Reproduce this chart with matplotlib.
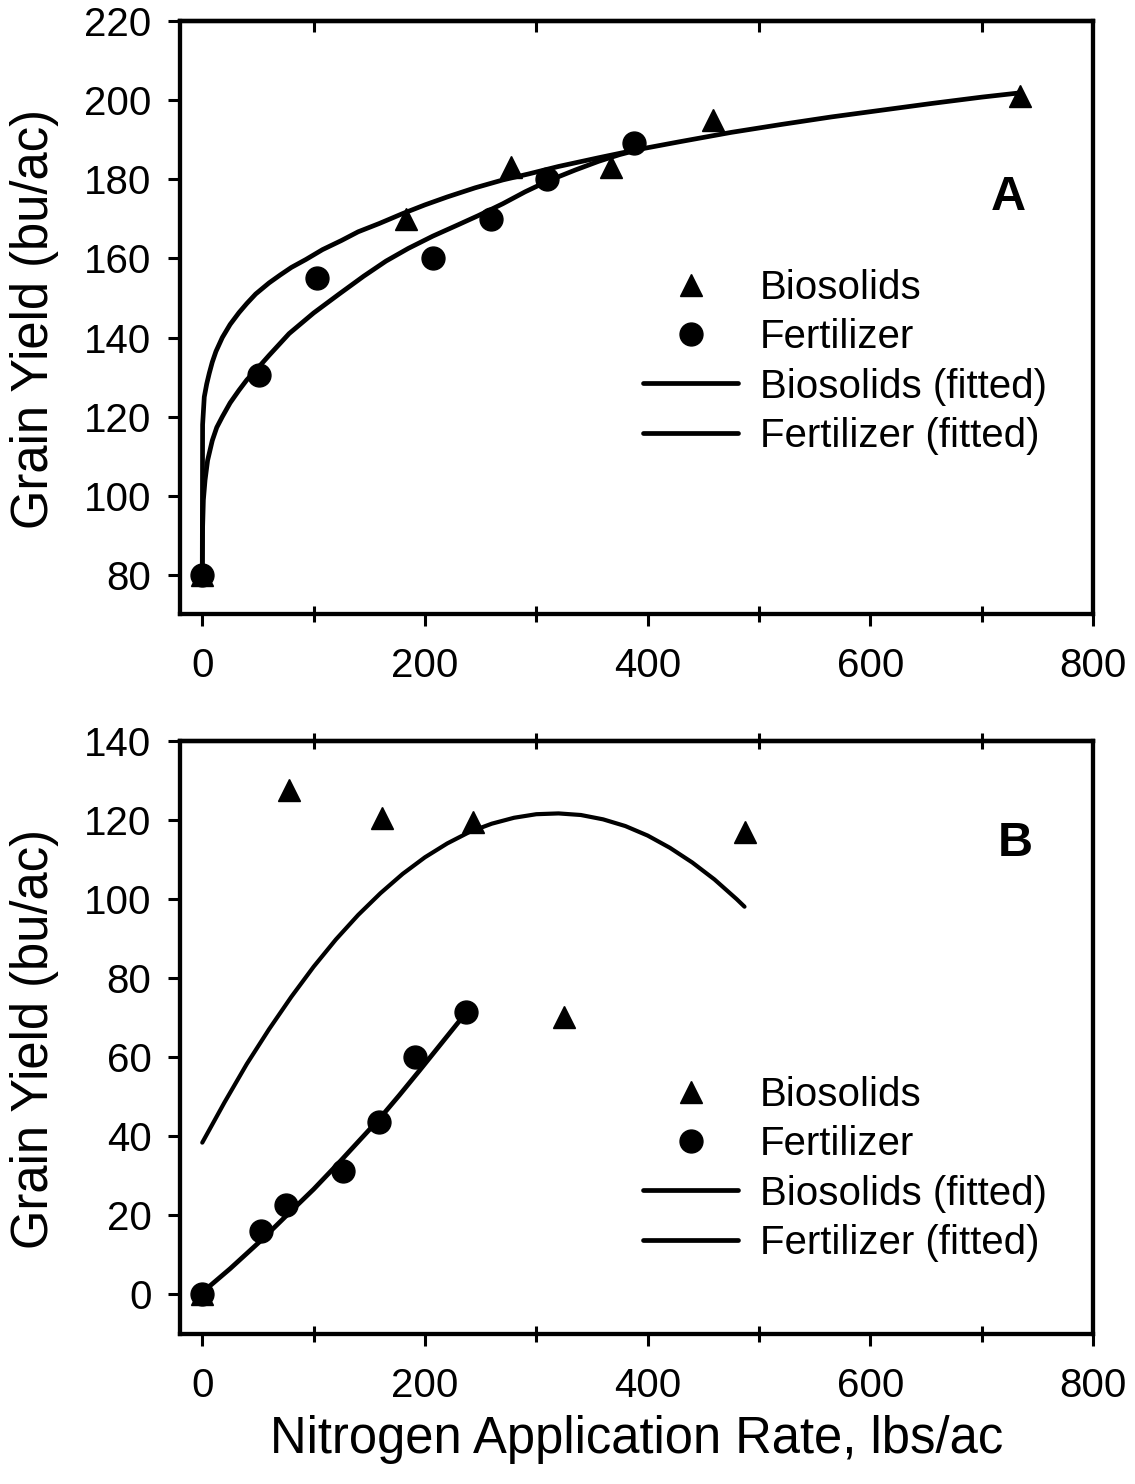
import matplotlib
matplotlib.use('Agg')
import matplotlib.pyplot as plt
from matplotlib.lines import Line2D

plt.rcParams['font.family'] = ['Liberation Sans', 'DejaVu Sans']

# ---------------- Panel A data ----------------
a_bio_x = [0, 183, 277, 367, 459, 734]
a_bio_y = [80, 170, 183, 183, 195, 201]
a_fert_x = [0, 51, 103, 207, 259, 310, 388]
a_fert_y = [80, 130.5, 155, 160, 170, 180, 189]
# fitted curves
a_bio_fit_x = [0, 0.3, 1.8, 4, 6.3, 9, 12.3, 18, 25, 33, 40, 48, 60, 70, 80, 93, 108, 125, 140, 159,
               180, 200, 220, 245, 270, 293, 320, 356, 390, 428, 475, 520, 565, 610, 655, 700, 735]
a_bio_fit_y = [80, 118, 125, 128.3, 131, 133.8, 136.5, 140, 143.3, 146.3, 148.6, 151, 153.8, 155.8,
               157.7, 159.7, 162.2, 164.5, 166.7, 168.8, 171.3, 173.5, 175.5, 177.8, 179.8, 181.3,
               183.2, 185.4, 187.4, 189.4, 191.8, 193.8, 195.7, 197.4, 199.1, 200.7, 201.8]
a_fert_fit_x = [0, 0.3, 1, 2.5, 4.8, 9, 13, 18, 25, 33, 40, 48, 60, 78, 100, 123, 145, 165, 185,
                207, 230, 248, 270, 290, 311, 335, 356, 375, 390]
a_fert_fit_y = [80, 92, 99, 104, 109, 114, 117.3, 120, 123.5, 126.7, 129.3, 131.7, 135.5, 141,
                146.2, 151, 155.5, 159.3, 162.5, 165.6, 168.5, 170.8, 173.8, 176.8, 179.6, 182.3,
                184.5, 186.2, 187.3]

# ---------------- Panel B data ----------------
b_bio_x = [0, 78, 161, 243, 325, 487]
b_bio_y = [0, 127.5, 120.5, 119.5, 70, 117]
b_fert_x = [0, 53, 75, 126, 159, 191, 237]
b_fert_y = [0, 16, 22.5, 31, 43.5, 60, 71.3]
b_bio_fit_x = [0, 20, 40, 60, 80, 100, 120, 140, 160, 180, 200, 220, 240, 260, 280, 300, 320,
               340, 360, 380, 400, 420, 440, 460, 480, 487]
b_bio_fit_y = [38.3, 48.5, 58.2, 67.0, 75.2, 82.8, 89.7, 95.9, 101.4, 106.3, 110.5, 114.0, 116.9,
               119.0, 120.5, 121.4, 121.6, 121.2, 120.1, 118.4, 116.0, 112.9, 109.2, 104.9, 99.9, 98]
b_fert_fit_x = [0, 25, 53, 78, 100, 123, 140, 159, 177, 195, 215, 237]
b_fert_fit_y = [0.4, 6.4, 13.6, 20.5, 26.5, 33.3, 38.5, 44.3, 50.3, 56.5, 63.5, 71.2]

legend_labels = ['Biosolids', 'Fertilizer', 'Biosolids (fitted)', 'Fertilizer (fitted)']
x_ticks = [0, 200, 400, 600, 800]
x_minor = [100, 300, 500, 700]

W, H = 1135, 1484
fig = plt.figure(figsize=(W / 100, H / 100), dpi=100)

FS = 29
LW = 3.4
SLW = 3.1
MS = 16.5


def px_axes(left, top, right, bottom):
    return [left / W, 1 - bottom / H, (right - left) / W, (bottom - top) / H]


def style(ax, ylim, yticks, top_dir):
    ax.set_xlim(-20, 800)
    ax.set_ylim(*ylim)
    ax.set_xticks(x_ticks)
    ax.set_xticks(x_minor, minor=True)
    ax.set_yticks(yticks)
    for s in ax.spines.values():
        s.set_linewidth(SLW)
    ax.tick_params(axis='x', which='major', direction='out', length=8.5, width=2.2,
                   labelsize=FS, pad=15, top=False)
    ax.tick_params(axis='x', which='minor', direction='inout', length=12, width=2.2,
                   top=False)
    ax.tick_params(axis='y', which='major', direction='out', length=8.5, width=2.2,
                   labelsize=FS, pad=12, right=False)
    sec = ax.secondary_xaxis('top')
    sec.set_xticks(x_minor)
    sec.tick_params(axis='x', direction=top_dir, length=8 if top_dir == 'in' else 12,
                    width=2.2, labeltop=False)
    sec.spines['top'].set_linewidth(SLW)


def legend(ax, anchor):
    handles = [
        Line2D([], [], ls='none', marker='^', ms=MS, color='black'),
        Line2D([], [], ls='none', marker='o', ms=MS, color='black'),
        Line2D([], [], color='black', lw=LW, solid_capstyle='round'),
        Line2D([], [], color='black', lw=LW, solid_capstyle='round'),
    ]
    ax.legend(handles, legend_labels, loc='upper left', bbox_to_anchor=anchor,
              frameon=False, fontsize=FS, handlelength=2.36, handletextpad=0.55,
              labelspacing=0.28, borderpad=0, borderaxespad=0)


def fit_line(ax, x, y, lw):
    ax.plot(x, y, color='black', lw=lw, solid_capstyle='round', solid_joinstyle='round')


# ---------- Panel A ----------
axA = fig.add_axes(px_axes(180, 20.7, 1093, 614))
fit_line(axA, a_bio_fit_x, a_bio_fit_y, LW)
fit_line(axA, a_fert_fit_x, a_fert_fit_y, LW)
axA.plot(a_bio_x, a_bio_y, ls='none', marker='^', ms=MS, color='black', clip_on=False)
axA.plot(a_fert_x, a_fert_y, ls='none', marker='o', ms=MS, color='black', clip_on=False)
style(axA, (70.2, 220), [80, 100, 120, 140, 160, 180, 200, 220], 'in')
axA.text((1008 - 180) / 913, (614 - 197) / 593.3, 'A', transform=axA.transAxes,
         fontsize=35, fontweight='bold', ha='center', va='center')
legend(axA, ((643 - 180) / 913, (614 - 269) / 593.3))

# ---------- Panel B ----------
axB = fig.add_axes(px_axes(180, 740.7, 1093, 1334.3))
fit_line(axB, b_bio_fit_x, b_bio_fit_y, 3.0)
fit_line(axB, b_fert_fit_x, b_fert_fit_y, LW)
axB.plot(b_bio_x, b_bio_y, ls='none', marker='^', ms=MS, color='black', clip_on=False)
axB.plot(b_fert_x, b_fert_y, ls='none', marker='o', ms=MS, color='black', clip_on=False)
style(axB, (-10.2, 140), [0, 20, 40, 60, 80, 100, 120, 140], 'inout')
axB.text((1015 - 180) / 913, (1334.3 - 843) / 593.6, 'B', transform=axB.transAxes,
         fontsize=35, fontweight='bold', ha='center', va='center')
legend(axB, ((643 - 180) / 913, (1334.3 - 1076) / 593.6))

# ---------- axis labels ----------
fs_lab = 36.5
fig.text(35 / W, 1 - 319 / H, 'Grain Yield (bu/ac)', rotation=90, ha='center', va='center',
         fontsize=fs_lab)
fig.text(35 / W, 1 - 1039 / H, 'Grain Yield (bu/ac)', rotation=90, ha='center', va='center',
         fontsize=fs_lab)
fig.text(637 / W, 1 - 1440 / H, 'Nitrogen Application Rate, lbs/ac', ha='center', va='center',
         fontsize=fs_lab)

fig.savefig('out.png', dpi=100)
